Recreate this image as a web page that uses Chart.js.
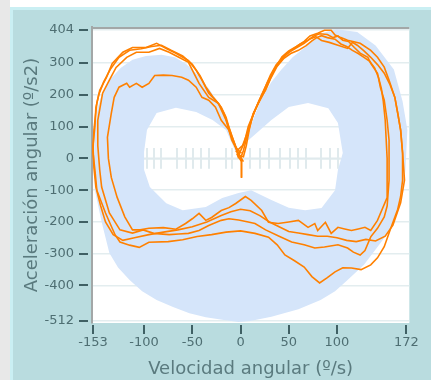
<!DOCTYPE html>
<html>
<head>
<meta charset="utf-8">
<script src="https://cdn.jsdelivr.net/npm/chart.js@4.4.1/dist/chart.umd.min.js"></script>
<style>
  html, body { margin: 0; padding: 0; }
  body { width: 431px; height: 380px; background: #e8e8e8; position: relative; overflow: hidden; }
  .strip { position: absolute; left: 10px; top: 0; right: 0; height: 7px; background: #fff; }
  .panel { position: absolute; left: 10px; top: 7px; width: 440px; height: 400px;
           background: #b9dcdf; border: 3px solid #caeff3; }
  #chart { position: absolute; left: 0; top: 0; }
</style>
</head>
<body>
<div class="strip"></div>
<div class="panel"></div>
<canvas id="chart" width="431" height="380"></canvas>
<script>
// axis ticks
const velTicks = [-153, -100, -50, 0, 50, 100, 172];
const accTicks = [404, 300, 200, 100, 0, -100, -200, -300, -400, -512];

// short marks along the zero line
const ladderVel = [-97, -90, -82, -66, -57, -49, -41, -33, -15, -9, 10, 20, 30, 41, 51, 60, 68, 83, 93, 101];

// reference band: outer outline and inner hole, [vel, acc]
const bandOuter = [
  [-152, 0], [-151, 90], [-148, 160], [-143, 210], [-135, 250], [-124, 285], [-112, 310],
  [-98, 322], [-82, 326], [-68, 318], [-56, 296], [-44, 262], [-33, 220], [-24, 180],
  [-17, 140], [-12, 95], [-7, 55], [-3, 30], [5, 48], [14, 130], [22, 190], [32, 240],
  [42, 278], [54, 318], [67, 350], [84, 394], [100, 406], [121, 398], [140, 355],
  [159, 280], [168, 180], [173, 90], [171, -36], [168, -110], [163, -172], [154, -230],
  [142, -279], [128, -335], [111, -383], [98, -418], [83, -446], [60, -475], [32, -498],
  [10, -512], [-2, -515], [-19, -508], [-36, -500], [-53, -487], [-70, -468], [-87, -446],
  [-102, -418], [-115, -383], [-127, -343], [-136, -298], [-144, -200], [-151, -100]
];
const bandHole = [
  [-5, 20], [-15, 89], [-29, 121], [-46, 146], [-67, 159], [-87, 143], [-97, 89],
  [-100, 20], [-100, -36], [-94, -90], [-77, -141], [-60, -163], [-36, -153], [-19, -125],
  [-2, -109], [11, -100], [32, -131], [50, -155], [67, -163], [84, -156], [98, -100],
  [101, -36], [106, 17], [101, 111], [91, 158], [70, 174], [50, 162], [32, 121], [15, 75], [0, 36]
];

// measured cycles, [vel, acc]
const cycle1 = [
  [1, -62], [1, -10], [-3, 10], [3, 5], [6, 40], [9, 90], [13, 140], [18, 170], [24, 205],
  [30, 245], [36, 285], [43, 320], [50, 338], [58, 352], [66, 368], [72, 385], [80, 394],
  [87, 403], [94, 403], [98, 388], [104, 380], [111, 372], [124, 362], [135, 340], [142, 318],
  [149, 287], [154, 246], [160, 192], [163, 142], [166, 89], [168, 16], [168, -69], [166, -120],
  [163, -160], [155, -226], [149, -278], [142, -313], [135, -335], [125, -350], [115, -345],
  [106, -344], [98, -357], [90, -375], [82, -392], [74, -372], [66, -342], [56, -322],
  [46, -304], [38, -272], [29, -248], [15, -236], [0, -228], [-15, -232], [-30, -240],
  [-45, -246], [-60, -256], [-75, -262], [-95, -264], [-105, -280], [-115, -273], [-125, -263],
  [-130, -241], [-140, -172], [-149, -100], [-151, -36], [-153, 20], [-152, 90], [-149, 173],
  [-146, 214], [-139, 255], [-133, 299], [-122, 334], [-112, 349], [-98, 349], [-87, 362],
  [-77, 346], [-67, 331], [-54, 308], [-46, 277], [-40, 246], [-33, 205], [-26, 183],
  [-20, 161], [-15, 129], [-12, 98], [-5, 35], [1, 16]
];
const cycle2 = [
  [-2, 10], [4, 50], [8, 100], [12, 130], [17, 165], [22, 200], [28, 240], [34, 275], [40, 300],
  [48, 330], [55, 345], [62, 360], [70, 372], [76, 385], [82, 392], [90, 390], [96, 380],
  [101, 385], [106, 372], [112, 368], [118, 349], [124, 331], [132, 318], [135, 299], [142, 268],
  [145, 224], [149, 183], [152, 120], [154, 57], [154, -69], [152, -150], [149, -184], [142, -220],
  [135, -247], [129, -290], [124, -304], [117, -295], [111, -282], [101, -272], [87, -279],
  [77, -282], [66, -272], [53, -263], [40, -245], [26, -225], [15, -205], [8, -200], [-2, -194],
  [-12, -190], [-20, -195], [-33, -211], [-43, -227], [-54, -236], [-64, -238], [-74, -240],
  [-90, -236], [-101, -225], [-112, -235], [-125, -225], [-136, -172], [-144, -90], [-146, -36],
  [-148, 40], [-148, 120], [-143, 205], [-136, 246], [-129, 286], [-118, 318], [-108, 334],
  [-95, 334], [-84, 346], [-74, 334], [-64, 318], [-54, 302], [-43, 236], [-33, 192],
  [-23, 173], [-15, 120], [-9, 57], [-2, 16], [3, -10]
];
const cycle3 = [
  [-5, 20], [2, 40], [7, 80], [11, 120], [15, 150], [20, 185], [26, 215], [31, 250], [38, 290],
  [45, 315], [52, 330], [60, 340], [68, 355], [74, 370], [79, 380], [84, 386], [90, 380],
  [98, 375], [104, 360], [110, 352], [116, 340], [122, 330], [128, 318], [134, 305], [139, 285],
  [143, 255], [146, 220], [148, 180], [150, 120], [151, 60], [152, 0], [152, -60], [152, -123],
  [142, -195], [135, -227], [129, -217], [122, -222], [115, -227], [108, -222], [101, -217],
  [94, -236], [88, -201], [80, -227], [77, -205], [70, -217], [60, -195], [50, -200], [39, -205],
  [29, -201], [22, -164], [11, -132], [5, -120], [-5, -142], [-12, -155], [-20, -164],
  [-30, -186], [-36, -195], [-43, -173], [-50, -190], [-57, -205], [-67, -223], [-80, -218],
  [-95, -220], [-104, -225], [-112, -225], [-120, -184], [-128, -122], [-134, -60], [-137, 0],
  [-138, 66], [-134, 142], [-131, 192], [-126, 224], [-118, 236], [-115, 224], [-108, 236],
  [-102, 224], [-95, 236], [-89, 261], [-80, 262], [-71, 261], [-61, 255], [-54, 246],
  [-46, 224], [-40, 192], [-33, 183], [-26, 161], [-20, 120], [-12, 89], [-5, 35], [-2, 0]
];
const cycle4 = [
  [0, 0], [3, 25], [6, 60], [10, 105], [14, 145], [19, 180], [25, 220], [31, 262], [37, 295],
  [44, 318], [51, 335], [58, 348], [66, 362], [72, 376], [78, 383], [84, 371], [92, 365],
  [101, 356], [111, 346], [116, 365], [121, 356], [128, 338], [135, 318], [142, 295], [149, 268],
  [155, 232], [160, 192], [163, 142], [166, 89], [168, 20], [170, -69], [166, -140], [158, -210],
  [150, -245], [140, -260], [130, -255], [120, -262], [110, -258], [100, -250], [90, -245],
  [80, -245], [70, -240], [60, -235], [50, -230], [40, -215], [30, -200], [20, -180], [10, -165],
  [0, -160], [-10, -168], [-20, -180], [-35, -200], [-50, -215], [-65, -225], [-80, -232],
  [-95, -240], [-110, -250], [-122, -258], [-132, -240], [-140, -200], [-145, -150], [-150, -90],
  [-152, -30], [-153, 40], [-151, 100], [-150, 160], [-147, 200], [-142, 240], [-135, 280],
  [-126, 318], [-115, 340], [-103, 345], [-92, 352], [-82, 356], [-72, 340], [-60, 322],
  [-50, 296], [-42, 260], [-36, 225], [-29, 195], [-22, 170], [-17, 140], [-13, 105], [-9, 70],
  [-4, 30], [1, -5], [1, -60]
];

const ORANGE = '#ff8000';
const TEXT = '#4e6e72';
const TICKMARK = '#3f6064';

const toPoints = (arr) => arr.map(([v, a]) => ({ x: v, y: a }));

const plotArea = {
  id: 'plotArea',
  beforeDraw(chart) {
    const { ctx, chartArea: a } = chart;
    ctx.save();
    ctx.fillStyle = '#ffffff';
    ctx.fillRect(a.left, a.top, a.width, a.height);
    ctx.restore();
  },
  beforeDatasetsDraw(chart) {
    const { ctx, chartArea: a, scales: { x, y } } = chart;
    ctx.save();
    ctx.beginPath();
    ctx.rect(a.left, a.top, a.width, a.height);
    ctx.clip();

    // zero line with its small marks
    ctx.strokeStyle = '#e0eaed';
    ctx.lineWidth = 2;
    ctx.beginPath();
    ctx.moveTo(x.getPixelForValue(-100), y.getPixelForValue(0));
    ctx.lineTo(x.getPixelForValue(104), y.getPixelForValue(0));
    ladderVel.forEach(v => {
      const px = Math.round(x.getPixelForValue(v));
      ctx.moveTo(px, y.getPixelForValue(33));
      ctx.lineTo(px, y.getPixelForValue(-33));
    });
    ctx.stroke();

    // band with its hole
    const trace = (pts) => {
      pts.forEach(([v, acc], i) => {
        const px = x.getPixelForValue(v), py = y.getPixelForValue(acc);
        if (i === 0) ctx.moveTo(px, py); else ctx.lineTo(px, py);
      });
      ctx.closePath();
    };
    ctx.beginPath();
    trace(bandOuter);
    trace(bandHole);
    ctx.fillStyle = '#d5e5fa';
    ctx.fill('evenodd');
    ctx.restore();
  },
  afterDraw(chart) {
    const { ctx, chartArea: a, scales: { x, y } } = chart;
    ctx.save();
    // top frame
    ctx.strokeStyle = '#a3a7a7';
    ctx.lineWidth = 2;
    ctx.beginPath();
    ctx.moveTo(a.left, a.top + 1);
    ctx.lineTo(a.right, a.top + 1);
    ctx.stroke();
    // tick marks
    ctx.strokeStyle = TICKMARK;
    ctx.lineWidth = 2;
    ctx.beginPath();
    accTicks.forEach(v => {
      const py = Math.round(y.getPixelForValue(v));
      ctx.moveTo(a.left - 13, py);
      ctx.lineTo(a.left - 4, py);
    });
    velTicks.forEach(v => {
      const px = Math.round(x.getPixelForValue(v));
      ctx.moveTo(px, a.bottom + 2);
      ctx.lineTo(px, a.bottom + 11);
    });
    ctx.stroke();
    ctx.restore();
  }
};

const lineStyle = {
  showLine: true,
  pointRadius: 0,
  borderColor: ORANGE,
  borderWidth: 1.6,
  fill: false,
  tension: 0
};

new Chart(document.getElementById('chart'), {
  type: 'scatter',
  data: {
    datasets: [cycle1, cycle2, cycle3, cycle4].map(c => ({ ...lineStyle, data: toPoints(c) }))
  },
  options: {
    responsive: false,
    animation: false,
    layout: { padding: { top: 27, right: 19, left: 0, bottom: 0 } },
    plugins: { legend: { display: false }, tooltip: { enabled: false } },
    scales: {
      x: {
        type: 'linear',
        min: -154,
        max: 175,
        afterBuildTicks: (s) => { s.ticks = velTicks.map(v => ({ value: v })); },
        afterFit: (s) => { s.height = 57; },
        grid: { display: false, drawTicks: false },
        border: { display: false },
        ticks: {
          color: TEXT,
          padding: 12,
          maxRotation: 0,
          autoSkip: false,
          font: { family: 'DejaVu Sans', size: 13 }
        },
        title: {
          display: true,
          text: 'Velocidad angular (º/s)',
          color: '#5a7a7e',
          font: { family: 'DejaVu Sans', size: 18 },
          padding: { top: 0, bottom: 0 }
        }
      },
      y: {
        type: 'linear',
        min: -518,
        max: 413.4,
        afterBuildTicks: (s) => { s.ticks = accTicks.map(v => ({ value: v })); },
        afterFit: (s) => { s.width = 92; },
        grid: { color: '#e3edef', lineWidth: 1.5, drawTicks: false },
        border: { display: true, color: '#a3a7a7', width: 2 },
        ticks: {
          color: TEXT,
          padding: 18,
          autoSkip: false,
          font: { family: 'DejaVu Sans', size: 13 }
        },
        title: {
          display: true,
          text: 'Aceleración angular (º/s2)',
          color: '#5a7a7e',
          font: { family: 'DejaVu Sans', size: 18 },
          padding: { top: 22, bottom: 0 }
        }
      }
    }
  },
  plugins: [plotArea]
});
</script>
</body>
</html>
